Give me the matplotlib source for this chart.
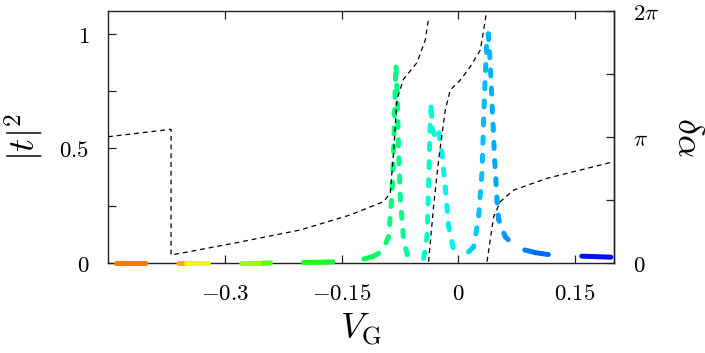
import numpy as np
import matplotlib
matplotlib.use("Agg")
import matplotlib.pyplot as plt
from matplotlib.collections import LineCollection
from matplotlib.colors import LinearSegmentedColormap

plt.rcParams["mathtext.fontset"] = "cm"
plt.rcParams["lines.scale_dashes"] = False

# |t|^2 versus gate voltage
vg = [-0.44, -0.40, -0.35, -0.30, -0.25, -0.20, -0.17, -0.15, -0.135, -0.122,
      -0.110, -0.098, -0.0896, -0.0852, -0.0832, -0.0815, -0.0801, -0.0788,
      -0.0768, -0.0746, -0.0703, -0.0639, -0.0531, -0.0446, -0.0402, -0.0382,
      -0.0369, -0.036, -0.0347, -0.0338, -0.0296, -0.0253, -0.021, -0.0167,
      -0.0125, -0.006, 0.0, 0.009, 0.0197, 0.0261, 0.0305, 0.0325, 0.0347,
      0.0369, 0.0386, 0.0411, 0.0433, 0.0463, 0.0498, 0.0518, 0.0604, 0.0669,
      0.0819, 0.099, 0.1196, 0.157, 0.2]
trans = [0.0, 0.0, 0.0, 0.0, 0.0, 0.002, 0.004, 0.006, 0.009, 0.017,
         0.028, 0.05, 0.114, 0.30, 0.48, 0.70, 0.868, 0.77,
         0.506, 0.29, 0.10, 0.013, 0.006, 0.02, 0.114, 0.33,
         0.506, 0.61, 0.70, 0.59, 0.55, 0.58, 0.48, 0.33,
         0.16, 0.057, 0.04, 0.035, 0.07, 0.2, 0.40, 0.62, 0.82,
         0.99, 1.0, 0.87, 0.70, 0.48, 0.27, 0.19, 0.114, 0.093,
         0.06, 0.045, 0.035, 0.03, 0.025]

# phase delta alpha in units of pi (nan = branch break)
phase_vg = [-0.45, -0.369, -0.369, -0.289, -0.203, -0.139, -0.096, -0.0874,
            -0.0832, -0.0788, -0.0703, -0.0531, -0.0424, -0.0382, np.nan,
            -0.0382, -0.0318, -0.0253, -0.0167, -0.0103, 0.0026, 0.0154,
            0.0283, 0.0347, 0.0356, np.nan,
            0.0369, 0.0454, 0.054, 0.0711, 0.114, 0.1569, 0.1997]
phase_pi = [1.002, 1.061, 0.063, 0.156, 0.262, 0.381, 0.487, 0.553,
            0.871, 1.30, 1.46, 1.59, 1.77, 1.942, np.nan,
            0.010, 0.447, 0.817, 1.214, 1.373, 1.452, 1.558,
            1.690, 1.929, 1.976, np.nan,
            0.010, 0.367, 0.487, 0.579, 0.672, 0.738, 0.804]

# palette of the coloured curve, anchored at gate voltages
pal_vg = [-0.45, -0.39, -0.36, -0.32, -0.28, -0.24, -0.19, -0.12, -0.08,
          -0.04, -0.01, 0.03, 0.08, 0.12, 0.16, 0.2]
pal_col = ["#ff6000", "#ff9000", "#ffd000", "#f0ff00", "#a0ff00", "#70ff00",
           "#20ff10", "#00ff50", "#00ff80", "#00ffc8", "#00f0f0", "#00c0ff",
           "#0080ff", "#0060ff", "#0020ff", "#0000f0"]

xticks = [-0.3, -0.15, 0.0, 0.15]
xlabels = ["$-0.3$", "$-0.15$", "$0$", "$0.15$"]
yticks = [0, 0.25, 0.5, 0.75, 1.0]
ylabels = ["$0$", "", "$0.5$", "", "$1$"]
rticks = [0, 0.5, 1.0, 1.5, 2.0]
rlabels = ["$0$", "", r"$\pi$", "", r"$2\pi$"]

XMIN, XMAX = -0.45, 0.2
DPI = 100
SPINE = "#222222"

fig = plt.figure(figsize=(7.05, 3.53), dpi=DPI)
ax = fig.add_axes([0.1532, 0.2550, 0.7177, 0.7138])
ax.set_xlim(XMIN, XMAX)
ax.set_ylim(0, 1.1)
ax2 = ax.twinx()
ax2.set_ylim(0, 2 * np.pi)

# coloured curve: dash pattern measured in a weighted arc length (x counts
# less than y), dashes a bit longer on the flat parts
pts = ax.transData.transform(np.column_stack([vg, trans])) * 72.0 / DPI
d = np.diff(pts, axis=0)
wx = 0.29 * np.abs(d[:, 0])
wlen = np.hypot(wx, d[:, 1])
alen = np.hypot(d[:, 0], d[:, 1])
cum = np.concatenate([[0.0], np.cumsum(wlen)])[:-1]
period = 13.07
segs, styles, mids = [], [], []
for i in range(len(d)):
    if wlen[i] <= 0:
        continue
    r = alen[i] / wlen[i]
    flat = wx[i] / wlen[i]
    frac = 0.33 + 0.14 * flat
    on, off = frac * period, (1 - frac) * period
    segs.append([(vg[i], trans[i]), (vg[i + 1], trans[i + 1])])
    styles.append(((cum[i] % period) * r, (on * r, off * r)))
    mids.append(0.5 * (vg[i] + vg[i + 1]))

cmap = LinearSegmentedColormap.from_list(
    "pal", [((x - XMIN) / (XMAX - XMIN), c) for x, c in zip(pal_vg, pal_col)])
colors = [cmap((m - XMIN) / (XMAX - XMIN)) for m in mids]
lc = LineCollection(segs, colors=colors, linewidths=3.6, linestyles=styles,
                    capstyle="round", zorder=3, clip_on=False)
ax.add_collection(lc)

ax2.plot(np.array(phase_vg), np.array(phase_pi) * np.pi, color="black",
         lw=0.9, dashes=(3.5, 2.8), zorder=4)

ax.set_xticks(xticks)
ax.set_xticklabels(xlabels)
ax.set_yticks(yticks)
ax.set_yticklabels(ylabels)
ax2.set_yticks(np.array(rticks) * np.pi)
ax2.set_yticklabels(rlabels)

ax.tick_params(axis="x", direction="in", top=True, length=5.5, width=0.9,
               labelsize=16.5, pad=13.5, color=SPINE)
ax.tick_params(axis="y", direction="in", right=False, length=5.5, width=0.9,
               labelsize=16.5, pad=13.5, color=SPINE)
ax2.tick_params(axis="y", direction="in", length=5.5, width=0.9,
                labelsize=16.5, pad=13.5, color=SPINE)

for s in ax.spines.values():
    s.set_color(SPINE)
    s.set_linewidth(1.0)
for name, s in ax2.spines.items():
    s.set_visible(name == "right")
    s.set_color(SPINE)
    s.set_linewidth(1.0)

ax.set_xlabel(r"$V_{\mathrm{G}}$", fontsize=26)
ax.xaxis.label.set_va("center")
ax.xaxis.set_label_coords(0.5, -0.266)
ax.set_ylabel(r"$|t|^2$", fontsize=26)
ax.yaxis.label.set_va("center")
ax.yaxis.set_label_coords(-0.166, 0.5)
ax2.set_ylabel(r"$\delta\alpha$", fontsize=26, rotation=-90)
ax2.yaxis.label.set_va("center")
ax2.yaxis.label.set_ha("center")
ax2.yaxis.set_label_coords(1.146, 0.5)

fig.savefig("out.png", dpi=DPI)
